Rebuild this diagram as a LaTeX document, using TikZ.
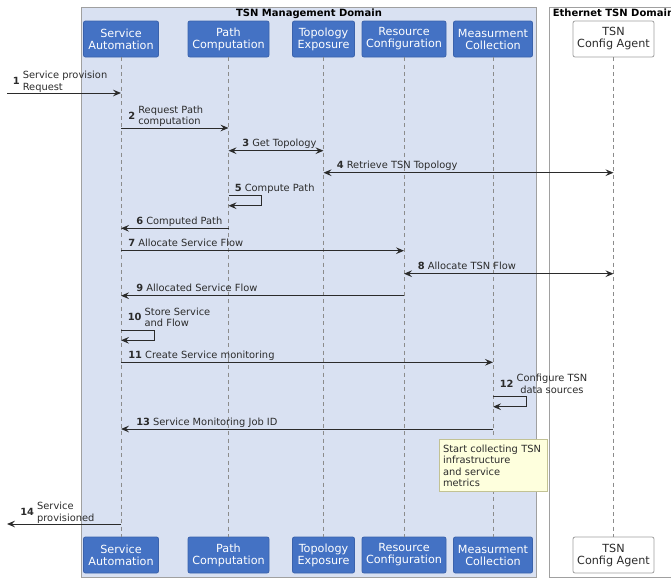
\documentclass[tikz,border=0pt]{standalone}
\usepackage{fontspec}
\setmainfont{DejaVu Sans}
\usetikzlibrary{arrows.meta}

\definecolor{partfill}{HTML}{4472C4}
\definecolor{partdraw}{HTML}{3A62AC}
\definecolor{domfill}{HTML}{D9E1F2}
\definecolor{domdraw}{HTML}{A0A0A0}
\definecolor{notefill}{HTML}{FEFFDD}
\definecolor{notedraw}{HTML}{C2C294}
\definecolor{ink}{HTML}{2B2B2B}
\definecolor{lifegray}{HTML}{8C8C8C}

\newcommand{\partfont}{\fontsize{8.4pt}{9pt}\selectfont}
\newcommand{\lblfont}{\fontsize{7.4pt}{8.6pt}\selectfont}
\newcommand{\domfont}{\fontsize{7.5pt}{8.6pt}\selectfont\bfseries}

\begin{document}
\begin{tikzpicture}[x=0.75pt,y=-0.75pt,
  part/.style={draw=partdraw, fill=partfill, text=white, rounded corners=1.5pt,
    minimum height=27pt, inner sep=0pt, align=center, font=\partfont, line width=0.6pt},
  extpart/.style={part, draw=domdraw, fill=white, text=ink},
  lifeline/.style={draw=lifegray, dashed, dash pattern=on 3pt off 2.5pt, line width=0.5pt},
  msg/.style={draw=ink, line width=0.75pt, -{Stealth[length=6pt,width=5pt,inset=2.2pt]}},
  bimsg/.style={msg, {Stealth[length=6pt,width=5pt,inset=2.2pt]}-{Stealth[length=6pt,width=5pt,inset=2.2pt]}},
  lbl/.style={inner sep=0pt, text=ink, font=\lblfont, anchor=base west},
  lbltwo/.style={inner sep=0pt, text=ink, font=\lblfont, anchor=south west},
  domframe/.style={draw=domdraw, line width=0.75pt},
  domtitle/.style={inner sep=0pt, text=black, font=\domfont, anchor=base},
  notebox/.style={draw=notedraw, fill=notefill, text=ink, font=\lblfont, align=left,
    anchor=north west, inner xsep=2.5pt, inner ysep=2pt, text width=76pt,
    minimum height=39pt, line width=0.6pt}
]
\useasboundingbox (0,0) rectangle (671,579);
\clip (0,0) rectangle (671,579);

% domain frames
\filldraw[domframe, fill=domfill] (81,7) rectangle (536,577);
\filldraw[domframe, fill=white] (549,7) rectangle (700,577);
\node[domtitle] (dmgmt) at (309,16.5) {TSN Management Domain};
\node[domtitle, anchor=base west] (deth) at (552.5,16.5) {Ethernet TSN Domain};

% participants, top row
\node[part, minimum width=56.25pt] (sa) at (121,39) {Service\\Automation};
\node[part, minimum width=60.75pt] (pc) at (228.5,39) {Path\\Computation};
\node[part, minimum width=46.5pt]  (te) at (323.5,39) {Topology\\Exposure};
\node[part, minimum width=63pt]    (rc) at (404,39) {Resource\\Configuration};
\node[part, minimum width=59.25pt] (mc) at (493,39) {Measurment\\Collection};
\node[extpart, minimum width=60.75pt] (ag) at (613.5,39) {TSN\\Config Agent};

% participants, bottom row
\node[part, minimum width=56.25pt] (sab) at (121,555) {Service\\Automation};
\node[part, minimum width=60.75pt] (pcb) at (228.5,555) {Path\\Computation};
\node[part, minimum width=46.5pt]  (teb) at (323.5,555) {Topology\\Exposure};
\node[part, minimum width=63pt]    (rcb) at (404,555) {Resource\\Configuration};
\node[part, minimum width=59.25pt] (mcb) at (493,555) {Measurment\\Collection};
\node[extpart, minimum width=60.75pt] (agb) at (613.5,555) {TSN\\Config Agent};

% lifelines
\foreach \p in {sa,pc,te,rc,mc,ag}
  \draw[lifeline] (\p.south) -- (\p b.north);

% message rows
\coordinate (y1) at (0,93);
\coordinate (y2) at (0,128);
\coordinate (y3) at (0,150.7);
\coordinate (y4) at (0,172.7);
\coordinate (y5a) at (0,195.3);
\coordinate (y5b) at (0,205.7);
\coordinate (y6) at (0,228.3);
\coordinate (y7) at (0,250.7);
\coordinate (y8) at (0,273.7);
\coordinate (y9) at (0,295.7);
\coordinate (y10a) at (0,330.3);
\coordinate (y10b) at (0,340.3);
\coordinate (y11) at (0,362.3);
\coordinate (y12a) at (0,396.7);
\coordinate (y12b) at (0,406.7);
\coordinate (y13) at (0,429);
\coordinate (y14) at (0,524);
\coordinate (in1) at (7,93);
\coordinate (out14) at (7,524);

% 1
\draw[msg] (in1) -- (sa |- y1);
\node[lbltwo] (l1) at (12.5,94) {\textbf{1} \begin{tabular}{@{}l@{}}Service provision\\Request\end{tabular}};
% 2
\draw[msg] (sa |- y2) -- (pc |- y2);
\node[lbltwo] (l2) at (128,128.5) {\textbf{2} \begin{tabular}{@{}l@{}}Request Path\\computation\end{tabular}};
% 3
\draw[bimsg] (pc |- y3) -- (te |- y3);
\node[lbl] (l3) at (242,146.7) {\textbf{3} Get Topology};
% 4
\draw[bimsg] (te |- y4) -- (ag |- y4);
\node[lbl] (l4) at (336.5,168.7) {\textbf{4} Retrieve TSN Topology};
% 5
\draw[msg] (pc |- y5a) -- ++(32.5,0) |- (pc |- y5b);
\node[lbl] (l5) at (234.5,191.3) {\textbf{5} Compute Path};
% 6
\draw[msg] (pc |- y6) -- (sa |- y6);
\node[lbl] (l6) at (136,224.3) {\textbf{6} Computed Path};
% 7
\draw[msg] (sa |- y7) -- (rc |- y7);
\node[lbl] (l7) at (128,246.7) {\textbf{7} Allocate Service Flow};
% 8
\draw[bimsg] (rc |- y8) -- (ag |- y8);
\node[lbl] (l8) at (417.5,269.7) {\textbf{8} Allocate TSN Flow};
% 9
\draw[msg] (rc |- y9) -- (sa |- y9);
\node[lbl] (l9) at (136,291.7) {\textbf{9} Allocated Service Flow};
% 10
\draw[msg] (sa |- y10a) -- ++(33.5,0) |- (sa |- y10b);
\node[lbltwo] (l10) at (127.5,330.3) {\textbf{10} \begin{tabular}{@{}l@{}}Store Service\\and Flow\end{tabular}};
% 11
\draw[msg] (sa |- y11) -- (mc |- y11);
\node[lbl] (l11) at (128,358.3) {\textbf{11} Create Service monitoring};
% 12
\draw[msg] (mc |- y12a) -- ++(33,0) |- (mc |- y12b);
\node[lbltwo] (l12) at (499.5,397) {\textbf{12} \begin{tabular}{@{}c@{}}Configure TSN\\data sources\end{tabular}};
% 13
\draw[msg] (mc |- y13) -- (sa |- y13);
\node[lbl] (l13) at (136,425) {\textbf{13} Service Monitoring Job ID};
% note on the measurement collection lifeline
\node[notebox] (n1) at (439.3,439.3) {Start collecting TSN\\infrastructure\\and service\\metrics};
% 14
\draw[msg] (sa |- y14) -- (out14);
\node[lbltwo] (l14) at (20,525) {\textbf{14} \begin{tabular}{@{}l@{}}Service\\provisioned\end{tabular}};
\end{tikzpicture}
\end{document}
